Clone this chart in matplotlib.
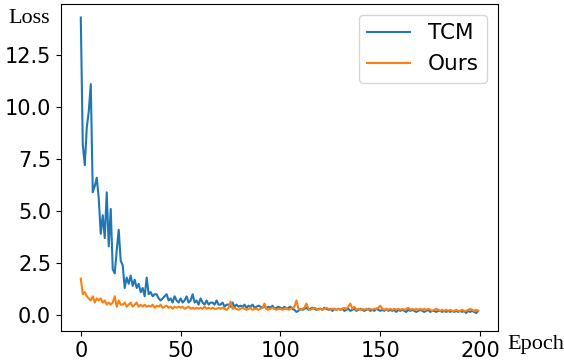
import matplotlib
matplotlib.use('Agg')
import matplotlib.pyplot as plt

# loss per epoch
tcm_loss = [
    14.3, 8.2, 7.2, 9.0, 9.8, 11.1, 5.9, 6.2, 6.6, 5.6,
    3.9, 4.8, 3.7, 5.9, 3.3, 5.1, 2.2, 2.0, 3.1, 4.1,
    2.6, 2.4, 1.3, 1.8, 1.5, 1.9, 1.4, 1.7, 1.3, 1.5,
    1.1, 1.3, 0.9, 1.8, 1.0, 1.1, 0.9, 1.0, 1.0, 0.8,
    0.7, 0.8, 0.9, 1.0, 0.7, 0.8, 0.6, 0.9, 0.7, 0.6,
    0.8, 0.6, 0.7, 0.9, 0.6, 0.7, 1.0, 0.6, 0.7, 0.5,
    0.8, 0.6, 0.5, 0.7, 0.5, 0.6, 0.6, 0.5, 0.7, 0.5,
    0.5, 0.6, 0.4, 0.5, 0.5, 0.4, 0.6, 0.4, 0.5, 0.4,
    0.45, 0.4, 0.5, 0.35, 0.45, 0.4, 0.5, 0.35, 0.4, 0.45,
    0.4, 0.35, 0.45, 0.3, 0.4, 0.35, 0.45, 0.3, 0.35, 0.4,
    0.35, 0.3, 0.4, 0.3, 0.35, 0.4, 0.3, 0.25, 0.15, 0.2,
    0.3, 0.25, 0.3, 0.35, 0.25, 0.3, 0.35, 0.3, 0.25, 0.3,
    0.3, 0.25, 0.35, 0.3, 0.25, 0.3, 0.2, 0.3, 0.25, 0.3,
    0.25, 0.3, 0.2, 0.25, 0.3, 0.2, 0.25, 0.3, 0.2, 0.25,
    0.3, 0.25, 0.2, 0.25, 0.3, 0.2, 0.25, 0.2, 0.3, 0.25,
    0.2, 0.25, 0.2, 0.3, 0.2, 0.25, 0.2, 0.25, 0.15, 0.25,
    0.2, 0.25, 0.2, 0.15, 0.25, 0.2, 0.25, 0.2, 0.15, 0.2,
    0.25, 0.2, 0.15, 0.2, 0.25, 0.15, 0.2, 0.2, 0.15, 0.2,
    0.2, 0.15, 0.2, 0.15, 0.2, 0.15, 0.2, 0.15, 0.2, 0.15,
    0.2, 0.15, 0.2, 0.1, 0.2, 0.15, 0.2, 0.15, 0.1, 0.2,
]

ours_loss = [
    1.75, 1.0, 1.1, 0.9, 0.8, 0.7, 0.9, 0.6, 0.8, 0.7,
    0.8, 0.6, 0.7, 0.5, 0.6, 0.5, 0.6, 0.9, 0.4, 0.7,
    0.5, 0.5, 0.6, 0.4, 0.5, 0.6, 0.4, 0.5, 0.6, 0.4,
    0.5, 0.4, 0.5, 0.4, 0.45, 0.4, 0.5, 0.35, 0.45, 0.4,
    0.5, 0.35, 0.4, 0.45, 0.35, 0.4, 0.3, 0.4, 0.35, 0.4,
    0.35, 0.4, 0.3, 0.35, 0.4, 0.3, 0.35, 0.3, 0.35, 0.3,
    0.35, 0.3, 0.4, 0.3, 0.35, 0.3, 0.35, 0.3, 0.3, 0.35,
    0.3, 0.35, 0.3, 0.25, 0.35, 0.65, 0.3, 0.35, 0.3, 0.25,
    0.3, 0.35, 0.3, 0.25, 0.3, 0.35, 0.25, 0.3, 0.3, 0.25,
    0.3, 0.35, 0.55, 0.3, 0.25, 0.3, 0.35, 0.3, 0.25, 0.3,
    0.3, 0.25, 0.3, 0.35, 0.25, 0.3, 0.35, 0.4, 0.7, 0.3,
    0.25, 0.3, 0.35, 0.55, 0.3, 0.25, 0.3, 0.35, 0.3, 0.25,
    0.3, 0.25, 0.3, 0.35, 0.3, 0.25, 0.3, 0.3, 0.25, 0.3,
    0.25, 0.3, 0.35, 0.3, 0.4, 0.55, 0.3, 0.4, 0.25, 0.3,
    0.25, 0.3, 0.25, 0.3, 0.25, 0.3, 0.25, 0.3, 0.3, 0.35,
    0.45, 0.3, 0.25, 0.3, 0.25, 0.3, 0.25, 0.3, 0.25, 0.3,
    0.25, 0.3, 0.25, 0.3, 0.35, 0.25, 0.3, 0.25, 0.3, 0.25,
    0.3, 0.25, 0.3, 0.25, 0.3, 0.25, 0.2, 0.25, 0.3, 0.25,
    0.2, 0.25, 0.2, 0.25, 0.2, 0.25, 0.2, 0.2, 0.25, 0.2,
    0.2, 0.25, 0.2, 0.2, 0.25, 0.3, 0.25, 0.2, 0.25, 0.2,
]

epochs = list(range(len(tcm_loss)))

fig = plt.figure(figsize=(5.64, 3.63), dpi=100)
ax = fig.add_axes([0.108, 0.088, 0.775, 0.901])

ax.plot(epochs, tcm_loss, label='TCM')
ax.plot(epochs, ours_loss, label='Ours')

ax.set_ylim(-0.77, 14.95)
ax.tick_params(labelsize=15)
ax.set_xticks([0, 50, 100, 150, 200])
ax.legend(fontsize=15.5, loc='upper right')

fig.text(0.014, 0.95, 'Loss', fontsize=16, family='Liberation Serif', va='center')
fig.text(0.9, 0.05, 'Epoch', fontsize=16, family='Liberation Serif', va='center')

fig.savefig('out.png')
